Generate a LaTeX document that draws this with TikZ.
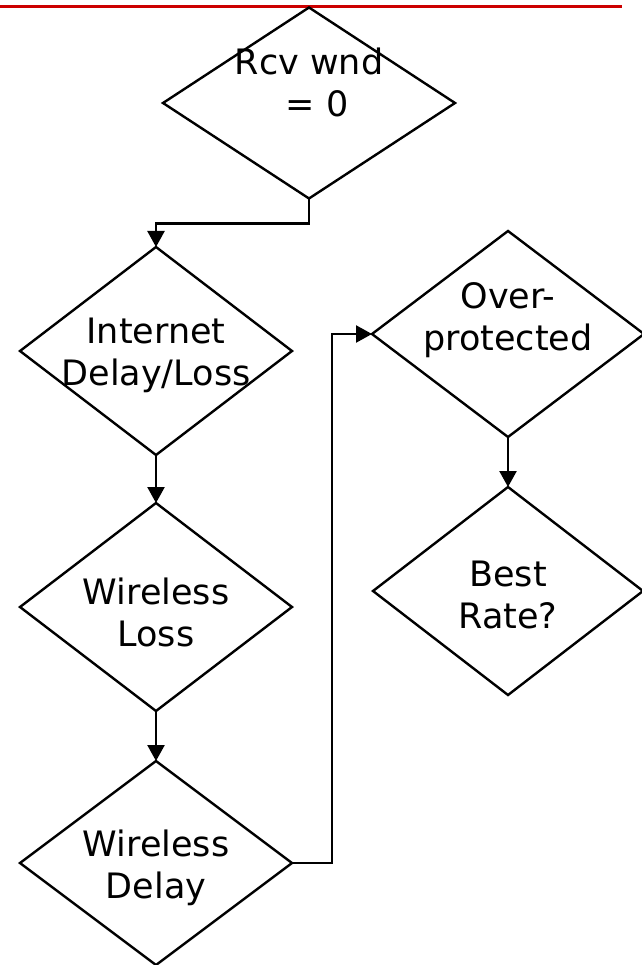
\documentclass[tikz,border=0pt]{standalone}
\usepackage{fontspec}
\setmainfont{DejaVu Sans}
\usetikzlibrary{arrows.meta,shapes.geometric}
\definecolor{topred}{RGB}{204,0,0}
\begin{document}
\begin{tikzpicture}[x=1pt,y=-1pt,
  dia/.style={draw,shape=diamond,line width=2.4pt,inner sep=0pt,outer sep=0pt},
  txt/.style={align=center,font=\fontsize{35}{42}\selectfont,inner sep=0pt},
  arr/.style={line width=2.4pt,-{Triangle[width=17pt,length=16pt]}}]
\useasboundingbox (0,0) rectangle (641,965);
\draw[topred,line width=3.5pt] (0,6.5) -- (622,6.5);
\node[dia,minimum width=292pt,minimum height=191pt] (d0) at (309,103) {};
\node[dia,minimum width=272pt,minimum height=208pt] (d1) at (156,351) {};
\node[dia,minimum width=272pt,minimum height=208pt] (d2) at (156,607) {};
\node[dia,minimum width=272pt,minimum height=204pt] (d3) at (156,863) {};
\node[dia,minimum width=272pt,minimum height=206pt] (d4) at (508,334) {};
\node[dia,minimum width=270pt,minimum height=208pt] (d5) at (508,591) {};
\node[txt] (t0) at (309,82) {Rcv wnd\\\hspace*{16pt}= 0};
\node[txt] (t1) at (156,355) {Internet\\Delay/Loss};
\node[txt] (t2) at (156,612) {Wireless\\Loss};
\node[txt] (t3) at (156,868) {Wireless\\Delay};
\node[txt] (t4) at (508,320) {Over-\\protected};
\node[txt] (t5) at (508,595) {Best\\Rate?};
\draw[arr] (d0.south) -- ++(0,25) -| (d1.north);
\draw[arr] (d1.south) -- (d2.north);
\draw[arr] (d2.south) -- (d3.north);
\draw[arr] (d3.east) -- ++(40,0) |- (d4.west);
\draw[arr] (d4.south) -- (d5.north);
\end{tikzpicture}
\end{document}
